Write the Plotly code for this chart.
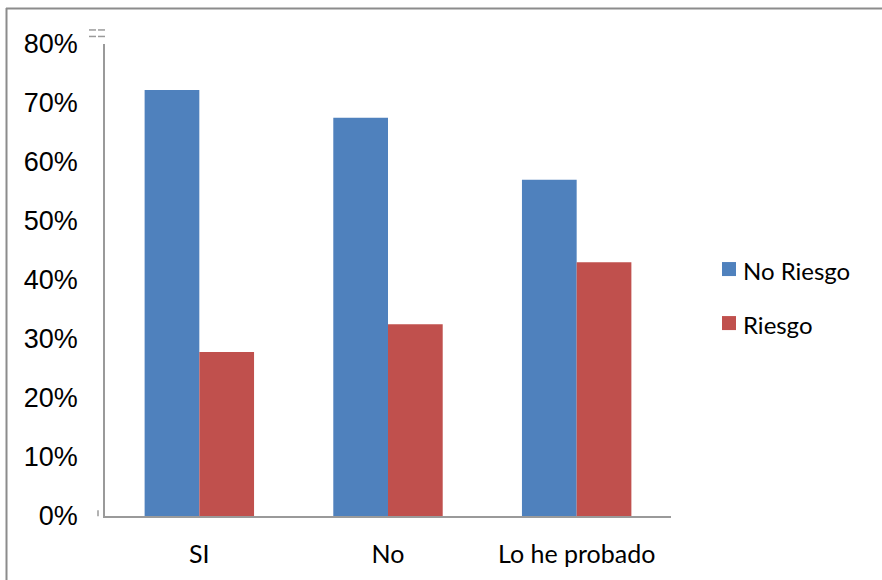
import plotly.graph_objects as go

categories = ["SI", "No", "Lo he probado"]
no_riesgo = [0.722, 0.675, 0.570]
riesgo = [0.278, 0.325, 0.430]
y_ticks = [0, 0.1, 0.2, 0.3, 0.4, 0.5, 0.6, 0.7, 0.8]
y_tick_labels = ["0%", "10%", "20%", "30%", "40%", "50%", "60%", "70%", "80%"]

W, H = 882, 580
L, R, T, B = 105, 671, 44, 523


def Y(y):
    # page position in layout units
    return (y - 1.7) / 0.985


def px(x):
    return (x - L) / (R - L)


def py(y):
    return (B - Y(y)) / (B - T)


BLUE = "#4F81BD"
RED = "#C0504D"
GRAY = "#9a9a9a"

fig = go.Figure()
fig.add_bar(x=categories, y=no_riesgo, name="No Riesgo", marker_color=BLUE, marker_line_width=0)
fig.add_bar(x=categories, y=riesgo, name="Riesgo", marker_color=RED, marker_line_width=0)

shapes = [
    # outer frame (top and left edges visible)
    dict(type="line", xref="paper", yref="paper", x0=px(6), x1=px(882), y0=py(9.5), y1=py(9.5),
         line=dict(color="#8c8c8c", width=2)),
    dict(type="line", xref="paper", yref="paper", x0=px(6.5), x1=px(6.5), y0=py(9), y1=py(600),
         line=dict(color="#8c8c8c", width=2)),
    # small marks near the value axis
    dict(type="line", xref="paper", yref="paper", x0=px(89), x1=px(96), y0=py(31), y1=py(31),
         line=dict(color=GRAY, width=1.5)),
    dict(type="line", xref="paper", yref="paper", x0=px(98), x1=px(105), y0=py(31), y1=py(31),
         line=dict(color=GRAY, width=1.5)),
    dict(type="line", xref="paper", yref="paper", x0=px(89), x1=px(96), y0=py(37.5), y1=py(37.5),
         line=dict(color=GRAY, width=1.5)),
    dict(type="line", xref="paper", yref="paper", x0=px(98), x1=px(105), y0=py(37.5), y1=py(37.5),
         line=dict(color=GRAY, width=1.5)),
    dict(type="line", xref="paper", yref="paper", x0=px(98), x1=px(98), y0=py(511), y1=py(517),
         line=dict(color=GRAY, width=1.5)),
]

annotations = []
legend_items = [("No Riesgo", BLUE, 270), ("Riesgo", RED, 324)]
for label, color, cy in legend_items:
    shapes.append(dict(type="rect", xref="paper", yref="paper",
                       x0=px(722), x1=px(736), y0=py(cy - 7), y1=py(cy + 7),
                       fillcolor=color, line=dict(width=0)))
    annotations.append(dict(xref="paper", yref="paper", x=px(741), y=py(cy + 1),
                            text=label, showarrow=False, xanchor="left", yanchor="middle",
                            font=dict(family="Lato", size=24, color="#000000")))

fig.update_layout(
    width=W, height=H,
    margin=dict(l=L, r=W - R, t=T, b=H - B, pad=0),
    paper_bgcolor="white", plot_bgcolor="white",
    barmode="group", bargap=0.42, bargroupgap=0,
    showlegend=False,
    shapes=shapes,
    annotations=annotations,
    xaxis=dict(
        showgrid=False, zeroline=False,
        showline=True, linecolor=GRAY, linewidth=1.5,
        ticks="", tickfont=dict(family="Lato", size=25, color="#000000"),
        ticklabelstandoff=15,
    ),
    yaxis=dict(
        range=[0, 0.8], tickvals=y_ticks, ticktext=y_tick_labels,
        showgrid=False, zeroline=False,
        showline=True, linecolor=GRAY, linewidth=1.5,
        ticks="", tickfont=dict(family="Liberation Sans", size=27, color="#000000"),
        ticklabelstandoff=20,
    ),
)

fig.write_html("out.html")
